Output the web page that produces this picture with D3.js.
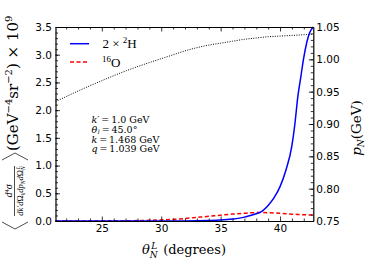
<!DOCTYPE html>
<html>
<head>
<meta charset="utf-8">
<script src="https://cdn.jsdelivr.net/npm/d3@7"></script>
<style>
  body { margin: 0; background: #fff; }
  svg text { fill: #000; }
  .tick text { font-family: "DejaVu Sans", sans-serif; font-size: 10.5px; }
  .serif { font-family: "Liberation Serif", "DejaVu Serif", serif; }
  .dserif { font-family: "DejaVu Serif", serif; }
</style>
</head>
<body>
<div id="chart"></div>
<script>
// theta_N^L grid (degrees)
const thetaDeg = [21.1, 23, 25, 27, 29, 30, 31, 32, 33, 34, 35, 36, 37, 37.5, 38, 38.5,
  39, 39.5, 40, 40.5, 41, 41.25, 41.5, 41.75, 42, 42.25, 42.5, 42.8];
// cross section x 1e9, 2 x 2H
const deuteron = [0, 0, 0, 0, 0, 0, 0.001, 0.002, 0.004, 0.008, 0.016, 0.035, 0.07, 0.1, 0.13, 0.18,
  0.28, 0.42, 0.62, 0.92, 1.36, 1.75, 2.25, 2.6, 2.95, 3.22, 3.4, 3.5];
// cross section x 1e9, 16O
const oxygen = [0, 0.001, 0.002, 0.005, 0.012, 0.02, 0.03, 0.045, 0.065, 0.085, 0.105, 0.125, 0.14, 0.147, 0.152, 0.153,
  0.15, 0.145, 0.138, 0.13, 0.124, 0.121, 0.118, 0.115, 0.113, 0.111, 0.11, 0.108];
// p_N (GeV), right axis
const pN = [0.9345, 0.951, 0.967, 0.982, 0.995, 1.001, 1.007, 1.013, 1.018, 1.022, 1.025, 1.028, 1.031, 1.032, 1.033, 1.034,
  1.035, 1.0355, 1.036, 1.0365, 1.037, 1.0372, 1.0375, 1.0378, 1.038, 1.0383, 1.0386, 1.039];

const xMajor = [25, 30, 35, 40];
const xMinor = d3.range(22, 43, 1);
const yLeftMajor = [0, 0.5, 1.0, 1.5, 2.0, 2.5, 3.0, 3.5];
const yLeftMinor = d3.range(0, 3.51, 0.1);
const yRightMajor = [0.75, 0.80, 0.85, 0.90, 0.95, 1.00, 1.05];
const yRightMinor = d3.range(0.75, 1.0501, 0.01);

const W = 369, H = 277;
const pL = 55.5, pR = 313.3, pT = 27, pB = 221;

const svg = d3.select("#chart").append("svg")
  .attr("width", W).attr("height", H);

const x = d3.scaleLinear().domain([21.1, 42.8]).range([pL, pR]);
const yL = d3.scaleLinear().domain([0, 3.5]).range([pB, pT]);
const yR = d3.scaleLinear().domain([0.75, 1.05]).range([pB, pT]);

// curves
const plot = svg.append("g");

plot.append("path")
  .attr("d", d3.line().x((d, i) => x(thetaDeg[i])).y(d => yR(d)).curve(d3.curveMonotoneX)(pN))
  .attr("fill", "none").attr("stroke", "#000").attr("stroke-width", 1)
  .attr("stroke-dasharray", "1,1.4");

plot.append("path")
  .attr("d", d3.line().x((d, i) => x(thetaDeg[i])).y(d => yL(d)).curve(d3.curveMonotoneX)(oxygen))
  .attr("fill", "none").attr("stroke", "#ff0000").attr("stroke-width", 1.5)
  .attr("stroke-dasharray", "4,2.5");

plot.append("path")
  .attr("d", d3.line().x((d, i) => x(thetaDeg[i])).y(d => yL(d)).curve(d3.curveMonotoneX)(deuteron))
  .attr("fill", "none").attr("stroke", "#0000ff").attr("stroke-width", 1.5);

// axes (ticks inward)
function styleAxis(g) {
  g.selectAll(".domain").attr("stroke", "#000").attr("stroke-width", 1.2);
  g.selectAll(".tick line").attr("stroke", "#000").attr("stroke-width", 0.8);
  g.selectAll(".tick text").attr("fill", "#000");
}

svg.append("g").attr("transform", `translate(0,${pB})`)
  .call(d3.axisBottom(x).tickValues(xMajor).tickSize(-4.5).tickSizeOuter(0).tickPadding(4).tickFormat(d3.format("d")))
  .call(styleAxis);
svg.append("g").attr("transform", `translate(0,${pB})`)
  .call(d3.axisBottom(x).tickValues(xMinor.filter(v => !xMajor.includes(v))).tickSize(-2.5).tickSizeOuter(0).tickFormat(""))
  .call(g => g.select(".domain").remove()).call(styleAxis);

svg.append("g").attr("transform", `translate(0,${pT})`)
  .call(d3.axisTop(x).tickValues(xMajor).tickSize(-4.5).tickSizeOuter(0).tickFormat(""))
  .call(styleAxis);
svg.append("g").attr("transform", `translate(0,${pT})`)
  .call(d3.axisTop(x).tickValues(xMinor.filter(v => !xMajor.includes(v))).tickSize(-2.5).tickSizeOuter(0).tickFormat(""))
  .call(g => g.select(".domain").remove()).call(styleAxis);

svg.append("g").attr("transform", `translate(${pL},0)`)
  .call(d3.axisLeft(yL).tickValues(yLeftMajor).tickSize(-4.5).tickSizeOuter(0).tickPadding(3.5).tickFormat(d3.format(".1f")))
  .call(styleAxis);
svg.append("g").attr("transform", `translate(${pL},0)`)
  .call(d3.axisLeft(yL).tickValues(yLeftMinor).tickSize(-2.5).tickSizeOuter(0).tickFormat(""))
  .call(g => g.select(".domain").remove()).call(styleAxis);

svg.append("g").attr("transform", `translate(${pR},0)`)
  .call(d3.axisRight(yR).tickValues(yRightMajor).tickSize(-4.5).tickSizeOuter(0).tickPadding(3).tickFormat(d3.format(".2f")))
  .call(styleAxis);
svg.append("g").attr("transform", `translate(${pR},0)`)
  .call(d3.axisRight(yR).tickValues(yRightMinor).tickSize(-2.5).tickSizeOuter(0).tickFormat(""))
  .call(g => g.select(".domain").remove()).call(styleAxis);

// x label
const xl = svg.append("text").attr("class", "dserif")
  .attr("x", 184).attr("y", 254).attr("text-anchor", "middle").attr("font-size", 13);
xl.append("tspan").attr("font-style", "italic").text("θ");
xl.append("tspan").attr("font-style", "italic").attr("font-size", 9).attr("dy", 3.5).text("N");
xl.append("tspan").attr("font-style", "italic").attr("font-size", 9).attr("dx", -6.5).attr("dy", -9).text("L");
xl.append("tspan").attr("dx", 6).attr("dy", 5.5).text("(degrees)");

// right y label
const yr = svg.append("text").attr("class", "dserif")
  .attr("transform", "translate(361,128) rotate(-90)")
  .attr("text-anchor", "middle").attr("font-size", 13.5);
yr.append("tspan").attr("font-style", "italic").text("p");
yr.append("tspan").attr("font-style", "italic").attr("font-size", 9).attr("dy", 3).text("N");
yr.append("tspan").attr("dy", -3).text("(GeV)");

// left y label (rotated group: u = -screenY, v = screenX)
const ly = svg.append("g").attr("class", "serif").attr("transform", "rotate(-90)");
const unit = ly.append("text").attr("class", "dserif").attr("x", -151).attr("y", 17.5).attr("font-size", 15);
unit.append("tspan").text("(GeV");
unit.append("tspan").attr("font-size", 10).attr("dy", -6).text("−4");
unit.append("tspan").attr("dy", 6).text("sr");
unit.append("tspan").attr("font-size", 10).attr("dy", -6).text("−2");
unit.append("tspan").attr("dy", 6).text(") × 10");
unit.append("tspan").attr("font-size", 10).attr("dy", -6).text("9");

const num = ly.append("text").attr("x", -191).attr("y", 11.5).attr("text-anchor", "middle").attr("font-size", 10);
num.append("tspan").attr("font-style", "italic").text("d");
num.append("tspan").attr("font-size", 6.5).attr("dy", -3).text("4");
num.append("tspan").attr("font-style", "italic").attr("dy", 3).text("σ");

ly.append("line").attr("x1", -216).attr("x2", -166).attr("y1", 14.5).attr("y2", 14.5)
  .attr("stroke", "#000").attr("stroke-width", 0.7);

const den = ly.append("text").attr("x", -191).attr("y", 23).attr("text-anchor", "middle").attr("font-size", 8.5);
den.append("tspan").attr("font-style", "italic").text("dk′d");
den.append("tspan").text("Ω");
den.append("tspan").attr("font-style", "italic").attr("font-size", 5.5).attr("dy", 1.5).text("k");
den.append("tspan").attr("font-style", "italic").attr("dy", -1.5).text("dp");
den.append("tspan").attr("font-style", "italic").attr("font-size", 5.5).attr("dy", 1.5).text("N");
den.append("tspan").attr("font-style", "italic").attr("dy", -1.5).text("d");
den.append("tspan").text("Ω");
den.append("tspan").attr("font-style", "italic").attr("font-size", 5.5).attr("dy", 1.5).text("N");
den.append("tspan").attr("font-style", "italic").attr("font-size", 5.5).attr("dx", -3).attr("dy", -5).text("L");

ly.append("path").attr("d", "M-222,2 L-229,15 L-222,28").attr("fill", "none").attr("stroke", "#000").attr("stroke-width", 0.7);
ly.append("path").attr("d", "M-160,2 L-153,15 L-160,28").attr("fill", "none").attr("stroke", "#000").attr("stroke-width", 0.7);

// legend
const leg = svg.append("g").attr("class", "serif").attr("font-size", 13);
leg.append("line").attr("x1", 70).attr("x2", 89).attr("y1", 43.7).attr("y2", 43.7)
  .attr("stroke", "#0000ff").attr("stroke-width", 1.5);
leg.append("line").attr("x1", 70).attr("x2", 89).attr("y1", 62).attr("y2", 62)
  .attr("stroke", "#ff0000").attr("stroke-width", 1.5).attr("stroke-dasharray", "4,2.5");
const l1 = leg.append("text").attr("x", 102.5).attr("y", 48);
l1.append("tspan").text("2 × ");
l1.append("tspan").attr("font-size", 9).attr("dy", -5).text("2");
l1.append("tspan").attr("dy", 5).text("H");
const l2 = leg.append("text").attr("x", 102).attr("y", 67);
l2.append("tspan").attr("font-size", 9).attr("dy", -5).text("16");
l2.append("tspan").attr("dy", 5).text("O");

// kinematics annotation
const ann = svg.append("g").attr("class", "dserif").attr("font-size", 9.5);
const a1 = ann.append("text").attr("x", 91.5).attr("y", 123.3);
a1.append("tspan").attr("font-style", "italic").text("k′");
a1.append("tspan").text("\u2009=\u20091.0 GeV");
const a2 = ann.append("text").attr("x", 91.5).attr("y", 132.8);
a2.append("tspan").attr("font-style", "italic").text("θ");
a2.append("tspan").attr("font-style", "italic").attr("font-size", 6).attr("dx", 0.6).attr("dy", 0.8).text("l");
a2.append("tspan").attr("dy", -0.8).text("\u2009=\u200945.0°");
const a3 = ann.append("text").attr("x", 91.5).attr("y", 142.6);
a3.append("tspan").attr("font-style", "italic").text("k");
a3.append("tspan").text("\u2009=\u20091.468 GeV");
const a4 = ann.append("text").attr("x", 91.5).attr("y", 152.2);
a4.append("tspan").attr("font-style", "italic").text("q");
a4.append("tspan").text("\u2009=\u20091.039 GeV");
</script>
</body>
</html>
